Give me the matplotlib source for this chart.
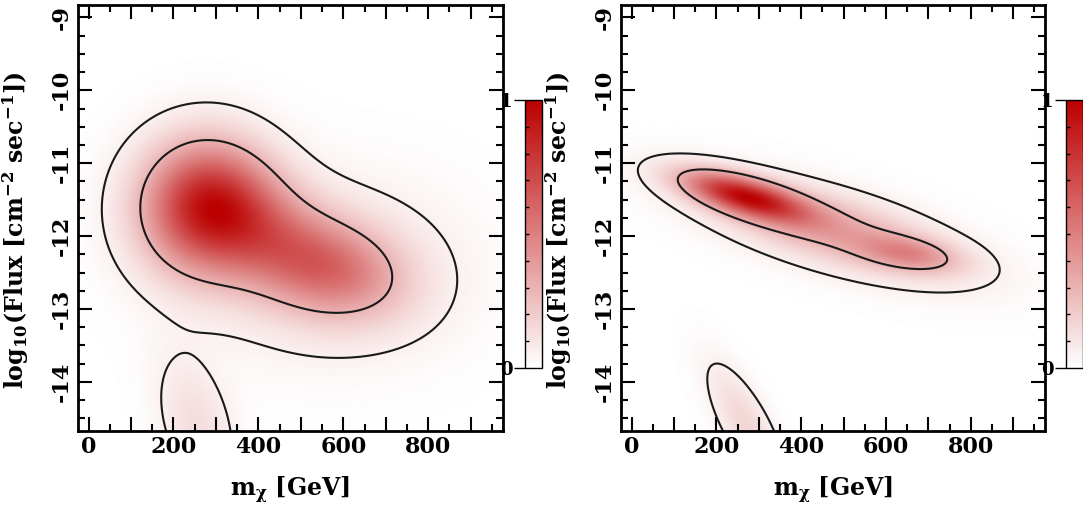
import numpy as np
import matplotlib
matplotlib.use("Agg")
import matplotlib.pyplot as plt
from matplotlib.colors import LinearSegmentedColormap
from matplotlib.ticker import MultipleLocator, FixedLocator, FuncFormatter

plt.rcParams["font.family"] = "serif"
plt.rcParams["font.serif"] = ["DejaVu Serif"]
plt.rcParams["font.weight"] = "bold"
plt.rcParams["axes.labelweight"] = "bold"
plt.rcParams["mathtext.fontset"] = "dejavuserif"
plt.rcParams["mathtext.default"] = "bf"

# Posterior components: centre mass, centre log-flux, mass width,
# log-flux width, degeneracy slope (dex per GeV), relative weight
left_xc = [275, 590, 430, 560, 255]
left_yc = [-11.6, -12.45, -12.05, -12.45, -14.6]
left_sx = [105, 110, 110, 220, 65]
left_sy = [0.62, 0.45, 0.55, 0.85, 0.6]
left_slope = [0.0, -0.001, -0.002, 0.0, -0.004]
left_w = [1.0, 0.45, 0.4, 0.15, 0.16]

right_xc = [265, 470, 660, 490, 270]
right_yc = [-11.45, -11.9, -12.25, -11.95, -14.6]
right_sx = [100, 190, 80, 260, 65]
right_sy = [0.18, 0.32, 0.16, 0.45, 0.4]
right_slope = [-0.0015, -0.0015, -0.0008, -0.0015, -0.007]
right_w = [0.8, 0.3, 0.28, 0.05, 0.16]

# contour levels (fraction of peak density)
left_levels = [0.06, 0.3]
right_levels = [0.06, 0.3]

mass_range = (-25, 975)
flux_range = (-14.67, -8.83)

cmap = LinearSegmentedColormap.from_list("wr", ["#ffffff", "#bb0000"])


def density(X, Y, xc, yc, sx, sy, slope, w):
    z = np.zeros_like(X)
    for i in range(len(xc)):
        d = Y - (yc[i] + slope[i] * (X - xc[i]))
        z += w[i] * np.exp(-0.5 * ((X - xc[i]) / sx[i]) ** 2 - 0.5 * (d / sy[i]) ** 2)
    return z / z.max()


x = np.linspace(*mass_range, 500)
y = np.linspace(*flux_range, 400)
X, Y = np.meshgrid(x, y)

fig = plt.figure(figsize=(10.83, 5.08), dpi=100)

panels = [
    ([0.072, 0.152, 0.392, 0.838], [0.4848, 0.2756, 0.0157, 0.5276],
     (left_xc, left_yc, left_sx, left_sy, left_slope, left_w), left_levels),
    ([0.5734, 0.152, 0.3915, 0.838], [0.9843, 0.2756, 0.0157, 0.5276],
     (right_xc, right_yc, right_sx, right_sy, right_slope, right_w), right_levels),
]

for ax_rect, cb_rect, comps, levels in panels:
    ax = fig.add_axes(ax_rect)
    Z = density(X, Y, *comps)
    im = ax.imshow(Z, origin="lower", extent=(*mass_range, *flux_range),
                   aspect="auto", cmap=cmap, vmin=0, vmax=1, interpolation="bilinear")
    ax.contour(X, Y, Z, levels=levels, colors="#1a1a1a", linewidths=1.5)

    ax.set_xlim(*mass_range)
    ax.set_ylim(*flux_range)
    ax.xaxis.set_major_locator(MultipleLocator(100))
    ax.xaxis.set_minor_locator(MultipleLocator(50))
    ax.xaxis.set_major_formatter(FuncFormatter(lambda v, p: "%d" % v if v % 200 == 0 else ""))
    ax.yaxis.set_major_locator(MultipleLocator(1))
    ax.yaxis.set_minor_locator(MultipleLocator(0.25))
    ax.yaxis.set_major_formatter(FuncFormatter(lambda v, p: "%d" % v))
    ax.tick_params(which="both", direction="in", top=True, right=True,
                   width=1.5, labelsize=16)
    ax.tick_params(which="major", length=10)
    ax.tick_params(which="minor", length=5)
    ax.tick_params(axis="y", labelrotation=90, pad=4)
    for lab in ax.get_yticklabels():
        lab.set_va("center")
    for sp in ax.spines.values():
        sp.set_linewidth(2)

    ax.set_xlabel(r"m$_{\chi}$ [GeV]", fontsize=17)
    ax.set_ylabel(r"log$_{10}$(Flux [cm$^{-2}$ sec$^{-1}$])", fontsize=17)
    ax.xaxis.set_label_coords(0.5, -0.103)
    ax.yaxis.set_label_coords(-0.11, 0.47)

    cax = fig.add_axes(cb_rect)
    cb = fig.colorbar(im, cax=cax)
    cb.outline.set_linewidth(1)
    cax.yaxis.set_ticks_position("left")
    cax.yaxis.set_label_position("left")
    cb.set_ticks([0, 1])
    cax.yaxis.set_major_formatter(FuncFormatter(lambda v, p: "%d" % v))
    cax.yaxis.set_minor_locator(FixedLocator(np.arange(0.1, 1.0, 0.1)))
    cax.tick_params(which="major", direction="out", length=8, width=1, labelsize=13, pad=1)
    cax.tick_params(which="minor", direction="in", length=3, width=1, left=True, right=False)

fig.savefig("out.png", dpi=100)
